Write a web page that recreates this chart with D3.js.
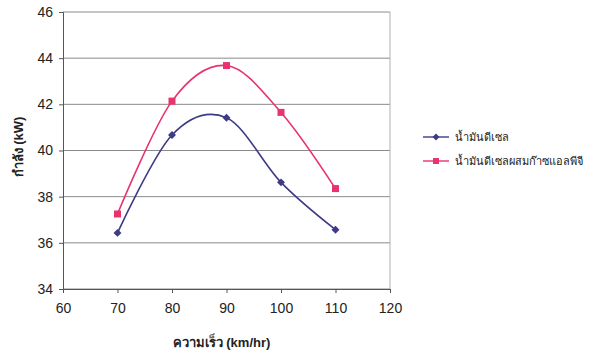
<!DOCTYPE html>
<html>
<head>
<meta charset="utf-8">
<script src="https://cdn.jsdelivr.net/npm/d3@7"></script>
<style>
  body { margin: 0; background: #fff; }
  text { font-family: "Liberation Sans", Arial, sans-serif; }
</style>
</head>
<body>
<div id="chart"></div>
<script>
// Data
const speeds = [70, 80, 90, 100, 110];
const dieselPower = [36.43, 40.67, 41.42, 38.62, 36.57];
const lpgPower = [37.25, 42.14, 43.68, 41.65, 38.35];
const seriesNames = ['น้ำมันดีเซล', 'น้ำมันดีเซลผสมก๊าซแอลพีจี'];
const xTicks = [60, 70, 80, 90, 100, 110, 120];
const yTicks = [34, 36, 38, 40, 42, 44, 46];

const width = 600, height = 356;
const margin = { top: 12, right: 210, bottom: 67, left: 63 };
const w = width - margin.left - margin.right;
const h = height - margin.top - margin.bottom;

const svg = d3.select('#chart').append('svg')
  .attr('width', width)
  .attr('height', height);

const g = svg.append('g')
  .attr('transform', `translate(${margin.left},${margin.top})`);

const x = d3.scaleLinear().domain([60, 120]).range([0, w]);
const y = d3.scaleLinear().domain([34, 46]).range([h, 0]);

// gridlines
g.append('g')
  .selectAll('line')
  .data(yTicks)
  .enter().append('line')
  .attr('x1', 0).attr('x2', w)
  .attr('y1', d => y(d)).attr('y2', d => y(d))
  .attr('stroke', '#8a8a8a')
  .attr('stroke-width', 1);

// right border of plot area
g.append('line')
  .attr('x1', w).attr('x2', w)
  .attr('y1', 0).attr('y2', h)
  .attr('stroke', '#b0b0b0');

// axes
const xAxis = g.append('g')
  .attr('transform', `translate(0,${h})`)
  .call(d3.axisBottom(x).tickValues(xTicks).tickSize(4).tickPadding(10));
const yAxis = g.append('g')
  .call(d3.axisLeft(y).tickValues(yTicks).tickSize(4).tickPadding(6));

[xAxis, yAxis].forEach(a => {
  a.select('.domain').attr('stroke', '#555');
  a.selectAll('.tick line').attr('stroke', '#555');
  a.selectAll('text')
    .style('font-size', '14px')
    .style('font-family', '"Liberation Sans", Arial, sans-serif')
    .attr('fill', '#222');
});

const line = d3.line()
  .x((d, i) => x(speeds[i]))
  .y(d => y(d))
  .curve(d3.curveCatmullRom.alpha(0));

const colors = ['#3d3b86', '#e8336c'];
const allSeries = [dieselPower, lpgPower];

allSeries.forEach((vals, k) => {
  g.append('path')
    .datum(vals)
    .attr('d', line)
    .attr('fill', 'none')
    .attr('stroke', colors[k])
    .attr('stroke-width', 1.6);
});

// markers
g.selectAll('.diamond')
  .data(dieselPower)
  .enter().append('path')
  .attr('class', 'diamond')
  .attr('d', d3.symbol(d3.symbolDiamond2, 40))
  .attr('transform', (d, i) => `translate(${x(speeds[i])},${y(d)})`)
  .attr('fill', colors[0]);

g.selectAll('.square')
  .data(lpgPower)
  .enter().append('rect')
  .attr('class', 'square')
  .attr('x', (d, i) => x(speeds[i]) - 3.5)
  .attr('y', d => y(d) - 3.5)
  .attr('width', 7).attr('height', 7)
  .attr('fill', colors[1]);

// axis titles
svg.append('text')
  .attr('x', margin.left + x(90) - 5)
  .attr('y', 347)
  .attr('text-anchor', 'middle')
  .style('font-size', '13px')
  .style('font-weight', 'bold')
  .attr('fill', '#222')
  .text('ความเร็ว (km/hr)');

svg.append('text')
  .attr('transform', `translate(23,147) rotate(-90)`)
  .attr('text-anchor', 'middle')
  .style('font-size', '13px')
  .style('font-weight', 'bold')
  .attr('fill', '#222')
  .text('กำลัง (kW)');

// legend
const legend = svg.append('g').attr('transform', 'translate(423,137)');
seriesNames.forEach((name, k) => {
  const row = legend.append('g').attr('transform', `translate(0,${k * 24})`);
  row.append('line')
    .attr('x1', 0).attr('x2', 26)
    .attr('stroke', colors[k]).attr('stroke-width', 1.4);
  if (k === 0) {
    row.append('path')
      .attr('d', d3.symbol(d3.symbolDiamond2, 30))
      .attr('transform', 'translate(13,0)')
      .attr('fill', colors[k]);
  } else {
    row.append('rect')
      .attr('x', 10).attr('y', -3).attr('width', 6).attr('height', 6)
      .attr('fill', colors[k]);
  }
  row.append('text')
    .attr('x', 32).attr('y', 4)
    .style('font-size', '11px')
    .attr('fill', '#222')
    .text(name);
});
</script>
</body>
</html>
